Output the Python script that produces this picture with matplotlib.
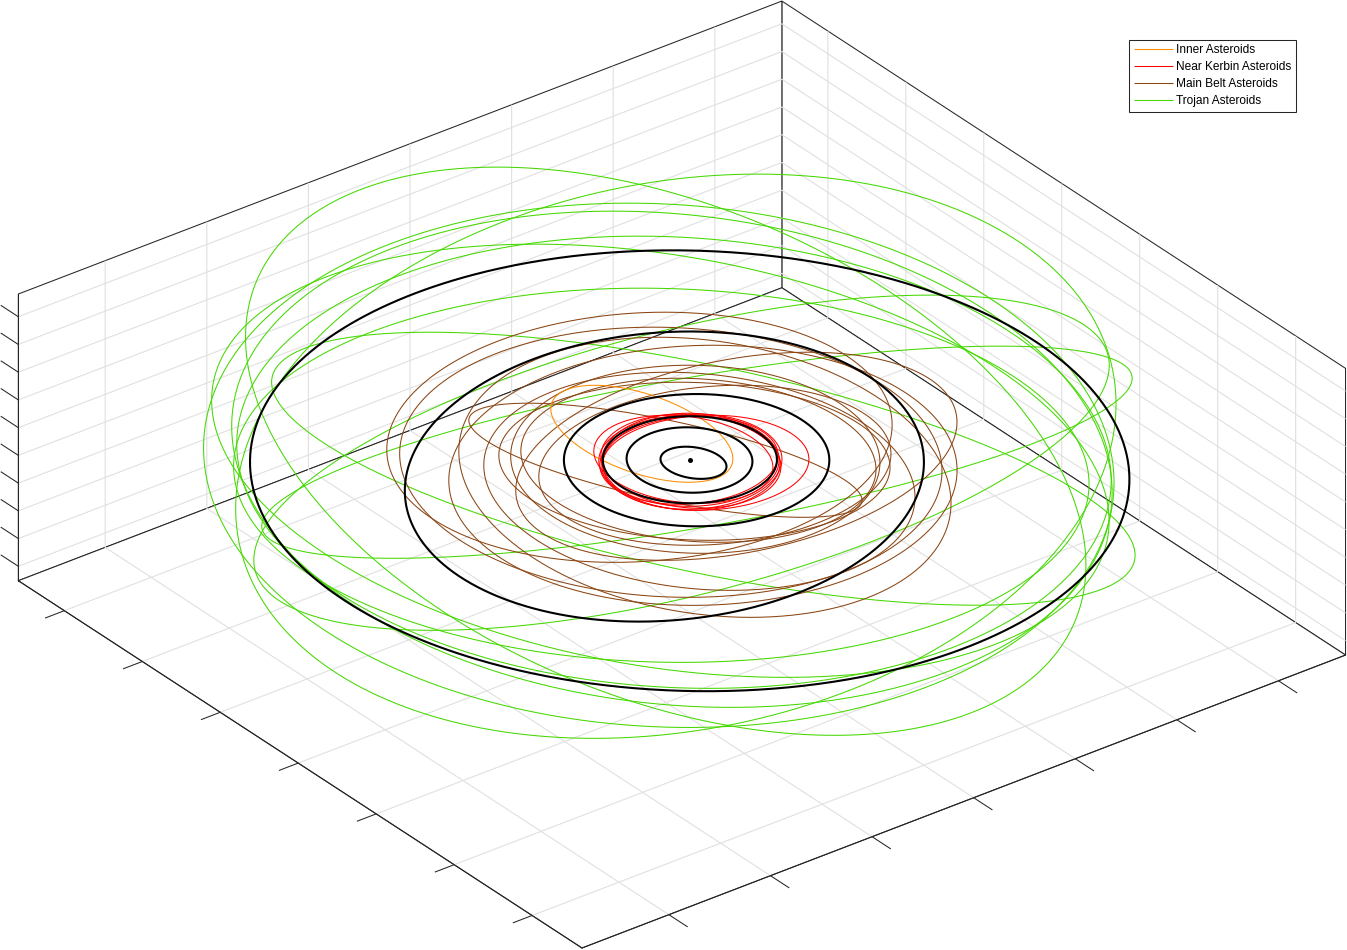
import numpy as np
import matplotlib
matplotlib.use('Agg')
import matplotlib.pyplot as plt
from mpl_toolkits.mplot3d import proj3d

# Orbital elements: a [1e9 m], e, i [deg], LAN [deg], arg. periapsis [deg]
inner_a = [15.55]
inner_e = [0.611]
inner_i = [11.22]
inner_lan = [55.5]
inner_w = [230.6]

near_a = [16.23, 14.06, 14.10, 14.07, 13.92, 13.94, 14.01]
near_e = [0.167, 0.073, 0.033, 0.025, 0.042, 0.015, 0.052]
near_i = [3.55, 6.03, 4.04, 0.36, 3.14, 3.70, 2.83]
near_lan = [186.9, 63.8, 35.7, 323.8, 341.6, 222.5, 276.2]
near_w = [288.9, 260.2, 36.6, 61.9, 86.3, 142.1, 168.8]

belt_a = [40.44, 42.39, 40.00, 38.98, 34.43, 31.67, 30.57, 28.84, 35.02, 27.78, 27.70]
belt_e = [0.283, 0.074, 0.132, 0.131, 0.198, 0.183, 0.029, 0.030, 0.214, 0.048, 0.168]
belt_i = [4.61, 2.18, 1.64, 7.78, 4.62, 21.74, 6.54, 1.35, 10.61, 4.30, 5.52]
belt_lan = [224.7, 56.2, 251.6, 25.6, 60.8, 108.6, 125.3, 25.4, 214.2, 91.2, 197.4]
belt_w = [51.5, 284.5, 183.6, 54.7, 4.3, 259.6, 340.2, 129.2, 278.2, 50.3, 272.5]

trojan_a = [68.96, 69.21, 68.69, 69.21, 69.55, 71.20, 69.03, 68.37, 70.91, 67.07]
trojan_e = [0.067, 0.085, 0.021, 0.058, 0.037, 0.073, 0.041, 0.039, 0.070, 0.109]
trojan_i = [19.82, 22.27, 17.92, 19.45, 12.13, 5.79, 6.43, 2.96, 9.06, 4.39]
trojan_lan = [106.0, 169.1, 191.7, 35.1, 276.7, 350.7, 16.0, 32.6, 69.5, 123.0]
trojan_w = [332.5, 54.2, 153.7, 280.8, 14.7, 352.6, 311.5, 310.9, 272.8, 251.8]

planet_a = [5.263, 9.832, 13.60, 20.726, 40.84, 68.773]
planet_e = [0.200, 0.010, 0.000, 0.051, 0.145, 0.050]
planet_i = [7.00, 2.10, 0.00, 0.06, 5.00, 1.304]
planet_lan = [70.0, 15.0, 0.0, 135.5, 280.0, 52.0]
planet_w = [15.0, 0.0, 0.0, 0.0, 90.0, 0.0]

group_labels = ['Inner Asteroids', 'Near Kerbin Asteroids', 'Main Belt Asteroids', 'Trojan Asteroids']
group_colors = ['#ff8c00', '#ff0000', '#8b4513', '#44d800']

x_ticks = [-60, -40, -20, 0, 20, 40, 60]
y_ticks = [-60, -40, -20, 0, 20, 40, 60]
z_ticks = [-25, -20, -15, -10, -5, 0, 5, 10, 15, 20]
x_lim = (-77.1, 73.2)
y_lim = (-72.8, 71.8)
z_lim = (-27.6, 24.1)

W, H = 1347, 950
plt.rcParams['font.family'] = ['Liberation Sans', 'DejaVu Sans']
plt.rcParams['grid.color'] = '#e0e0e0'
plt.rcParams['grid.linewidth'] = 0.8


def orbit(a, e, i, lan, w):
    E = np.linspace(0, 2 * np.pi, 721)
    i, lan, w = np.radians([i, lan, w])
    px = a * (np.cos(E) - e)
    py = a * np.sqrt(1 - e * e) * np.sin(E)
    cO, sO, cw, sw, ci, si = np.cos(lan), np.sin(lan), np.cos(w), np.sin(w), np.cos(i), np.sin(i)
    x = (cO * cw - sO * sw * ci) * px + (-cO * sw - sO * cw * ci) * py
    y = (sO * cw + cO * sw * ci) * px + (-sO * sw + cO * cw * ci) * py
    z = (sw * si) * px + (cw * si) * py
    return x, y, z


fig = plt.figure(figsize=(W / 100, H / 100), dpi=100)
ax = fig.add_axes([0, 0, 1, 1], projection='3d', proj_type='ortho')
ax.computed_zorder = False
ax.view_init(elev=30, azim=-127.5)
ax.patch.set_alpha(0)

groups = [
    (inner_a, inner_e, inner_i, inner_lan, inner_w),
    (near_a, near_e, near_i, near_lan, near_w),
    (belt_a, belt_e, belt_i, belt_lan, belt_w),
    (trojan_a, trojan_e, trojan_i, trojan_lan, trojan_w),
]
draw_order = [3, 2, 0, 1]
handle_map = {}
for g in draw_order:
    for k, el in enumerate(zip(*groups[g])):
        ln, = ax.plot(*orbit(*el), color=group_colors[g], lw=0.75, zorder=3 + draw_order.index(g) * 0.1,
                      solid_capstyle='butt', label=group_labels[g] if k == 0 else None)
        if k == 0:
            handle_map[g] = ln
handles = [handle_map[g] for g in range(4)]
for el in zip(planet_a, planet_e, planet_i, planet_lan, planet_w):
    ax.plot(*orbit(*el), color='k', lw=1.5, zorder=5, solid_capstyle='butt')
ax.plot([0], [0], [0], marker='o', color='k', ms=3.6, mew=0, ls='none', zorder=6)

# MATLAB-style tick marks
tick_col = '#262626'
for t in x_ticks:
    ax.plot([t, t], [y_lim[0], y_lim[0] - 4.7], [z_lim[0]] * 2, color=tick_col, lw=0.75, zorder=2)
for t in y_ticks:
    ax.plot([x_lim[0], x_lim[0] - 3.7], [t, t], [z_lim[0]] * 2, color=tick_col, lw=0.75, zorder=2)
for t in z_ticks:
    ax.plot([x_lim[0]] * 2, [y_lim[1], y_lim[1] + 4.4], [t, t], color=tick_col, lw=0.75, zorder=2)

ax.set_xlim(*x_lim, view_margin=0)
ax.set_ylim(*y_lim, view_margin=0)
ax.set_zlim(*z_lim, view_margin=0)
ax.set_box_aspect((x_lim[1] - x_lim[0], y_lim[1] - y_lim[0], z_lim[1] - z_lim[0]))
ax.set_xticks(x_ticks)
ax.set_yticks(y_ticks)
ax.set_zticks(z_ticks)
ax.set_xticklabels([])
ax.set_yticklabels([])
ax.set_zticklabels([])
ax.grid(True)
for axis in (ax.xaxis, ax.yaxis, ax.zaxis):
    axis.set_pane_color((1, 1, 1, 1))
    axis.pane.set_closed(True)
    axis.pane.set_edgecolor(tick_col)
    axis.pane.set_linewidth(0.75)
    axis.line.set_color(tick_col)
    axis.line.set_linewidth(0.75)
    axis._axinfo['tick']['inward_factor'] = 0
    axis._axinfo['tick']['outward_factor'] = 0

# Fit the box to the figure: near-floor corner and floor width of the reference.
M = ax.get_proj()
u0, v0, _ = proj3d.proj_transform(x_lim[0], y_lim[0], z_lim[0], M)
u1, v1, _ = proj3d.proj_transform(x_lim[1], y_lim[0], z_lim[0], M)
u2, v2, _ = proj3d.proj_transform(x_lim[0], y_lim[1], z_lim[0], M)
scale = (1345.2 - 18.0) / (u1 - u2)
ul, ur = ax.viewLim.intervalx
vl, vr = ax.viewLim.intervaly
side_w = scale * (ur - ul)
side_h = scale * (vr - vl)
x_px = 582.0 - (u0 - ul) * scale
y_px = (H - 948.0) - (v0 - vl) * scale
ax.set_position([x_px / W, y_px / H, side_w / W, side_h / H])

leg = fig.legend(handles=handles, labels=group_labels, loc='upper left',
                 bbox_to_anchor=(1128.8 / W, 1 - 39.5 / H), borderaxespad=0, fontsize=8.55,
                 frameon=True, fancybox=False, framealpha=1, edgecolor=tick_col,
                 handlelength=3.3, handletextpad=0.25, labelspacing=0.41, borderpad=0.4)
leg.get_frame().set_linewidth(0.75)
fig.savefig('out.png', dpi=100)
